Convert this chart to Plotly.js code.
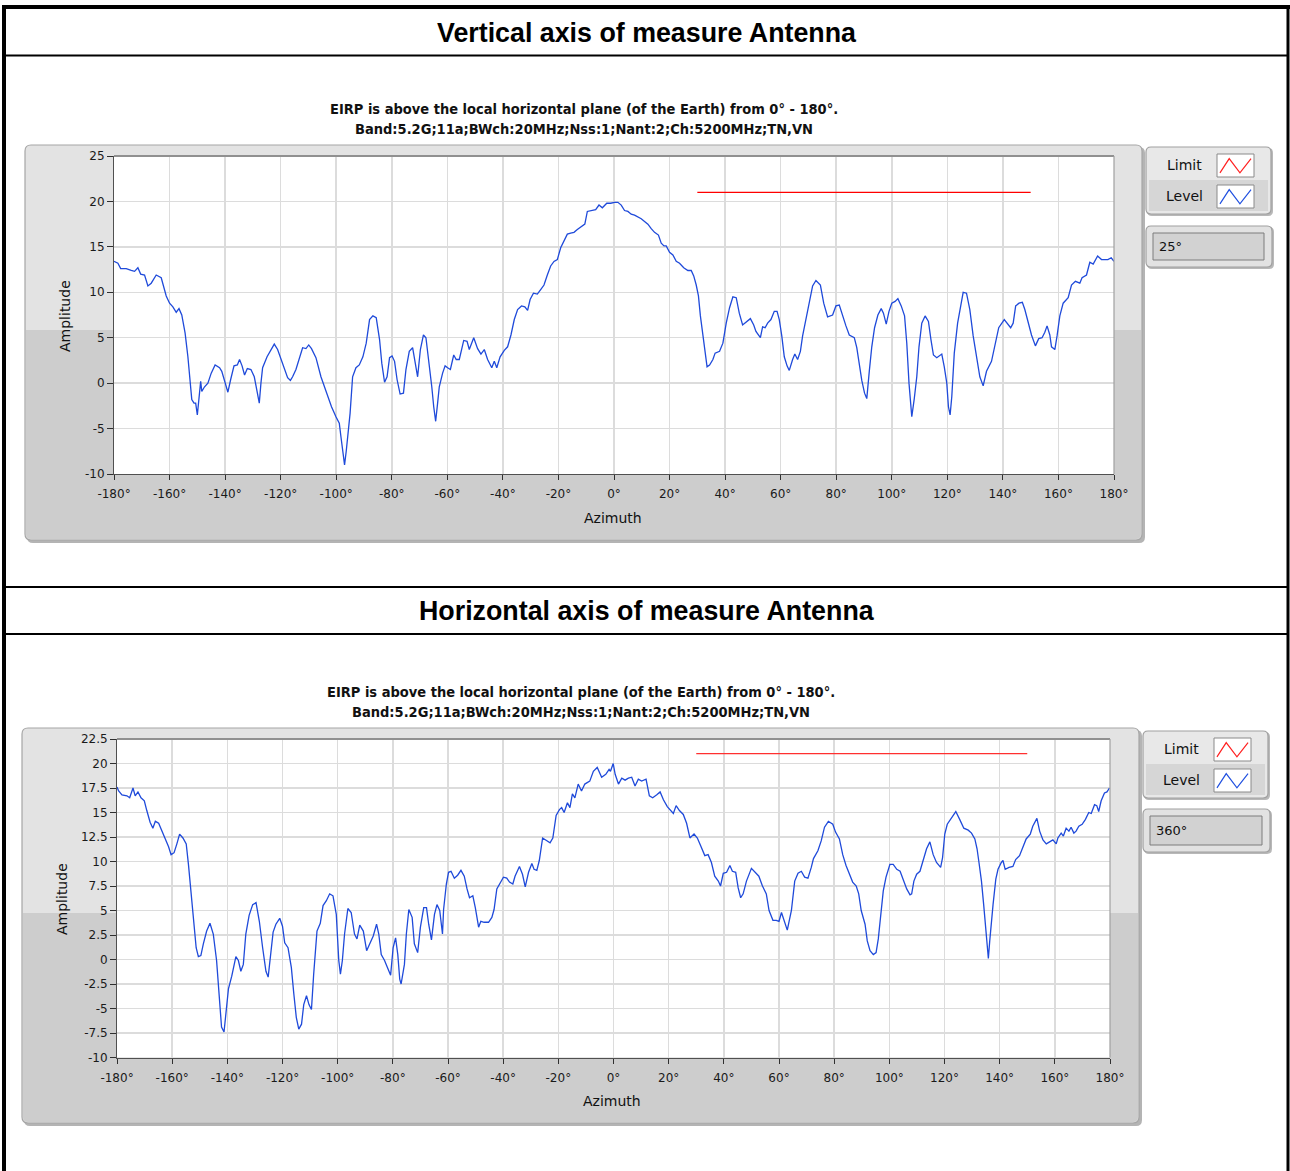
<!DOCTYPE html>
<html><head><meta charset="utf-8">
<script src="https://cdn.plot.ly/plotly-3.0.1.min.js"></script>
<style>html,body{margin:0;padding:0;background:#fff;overflow:hidden}#chart{width:1290px;height:1171px}</style>
</head><body><div id="chart"></div>
<script>
// ---------- DATA ----------
const V_azimuth = [-180,-178.6,-177.6,-175.6,-173.8,-172.6,-171.4,-170.4,-169,-167.8,-166.6,-164.8,-163,-161.2,-160,-158.8,-157.6,-156.6,-155.6,-154.4,-153.4,-152.8,-152,-151.2,-150.6,-150,-149.3,-148.8,-148.4,-147.4,-146.2,-145,-143.6,-142,-141.2,-140.2,-139,-138,-136.8,-135.6,-134.8,-133.9,-133,-132,-130.7,-129.5,-128.3,-127.7,-127.1,-126.5,-124.9,-123.5,-122.3,-121.1,-119.9,-118.7,-117.5,-116.5,-115.7,-114.5,-113.3,-112.1,-110.9,-109.9,-108.9,-107.3,-105.5,-104.3,-103.1,-101.7,-100.1,-98.9,-98.3,-97.7,-97,-96.4,-95.7,-95,-94.1,-92.9,-91.7,-90.4,-89.2,-88,-86.8,-85.6,-84.4,-83.6,-82.6,-81.7,-80.8,-79.9,-79,-78.1,-77,-75.8,-74.9,-73.7,-72.5,-71.6,-70.7,-69.7,-68.6,-67.7,-66.5,-65.6,-64.9,-64.2,-63.5,-62.9,-61.7,-60.8,-59.9,-58.9,-57.7,-56.8,-55.7,-54.1,-52.9,-52.1,-50.5,-49.1,-47.9,-46.7,-45.5,-44,-43.1,-42.2,-41,-39.5,-38.3,-37.1,-35.9,-34.7,-33.3,-32.1,-31.1,-30.2,-29,-27.6,-26.4,-25.2,-24,-22.8,-21.6,-20.4,-19.2,-18,-16.8,-15.6,-14.4,-13.2,-11.7,-10.5,-9.6,-7.8,-6.6,-5.4,-4.2,-2.6,-1.2,0.2,1.4,2.6,3.8,5,6.2,7.4,8.6,9.8,11,12.2,13.4,14.6,16,17,18,18.8,20,21.2,22.4,23.6,25.1,26.6,27.8,28.7,29.6,30.4,31.1,32,32.8,33.5,34.4,35.6,36.4,38,39.2,40.4,41.6,42.8,44,45.1,46.3,47.9,49.1,50.3,51.1,52.7,53.5,54.4,55.3,56.5,57.7,58.7,59.5,60.4,61.3,62.3,63.1,64.3,65.1,66.1,67.1,67.9,69.1,70.3,71.5,72.7,74.3,75.5,76.9,78.7,79.9,81.1,82.3,83.5,84.7,86.5,87.4,88.3,89.2,90.2,91,91.9,92.8,93.8,95,96.2,97,98,99,100,101.2,102.2,103.4,104.6,105.4,106.2,107.2,108.1,109,109.8,110.8,112,113.2,114.1,115,116.2,118,118.9,119.8,120.4,121,121.6,122.5,123.7,124.9,125.7,126.9,128.1,129.3,130.5,131.7,132.9,134.1,135.9,137.3,138.5,140.5,141.7,142.8,143.7,144.6,145.8,147,147.9,149.1,150.3,151.7,152.9,154.1,155.1,155.9,156.9,157.5,158.7,159.5,160.5,161.7,163.5,164.7,166.1,167.7,168.5,170.1,171.3,172.5,174.1,175.5,177.8,179,180];
const V_level = [13.4,13.2,12.6,12.6,12.4,12.3,12.7,12.0,11.9,10.7,11.0,11.9,11.6,9.6,8.8,8.4,7.8,8.2,7.5,5.5,2.9,0.4,-1.8,-2.2,-2.2,-3.5,-1.5,0.2,-0.9,-0.4,0,1.1,2.0,1.7,1.3,0.2,-1.0,0.4,1.9,2.0,2.6,1.9,0.9,1.6,1.5,0.7,-1.5,-2.2,0,1.7,2.9,3.7,4.3,3.7,2.6,1.5,0.6,0.3,0.7,1.5,2.8,3.9,3.8,4.2,3.8,2.8,0.7,-0.4,-1.5,-2.6,-3.7,-4.4,-5.9,-7.4,-9.0,-7.5,-5.7,-3.3,0.7,1.7,2.0,2.9,4.4,7.0,7.4,7.2,4.8,2.2,0.1,0.7,2.8,3.0,2.4,0.4,-1.2,-1.1,1.5,3.5,3.9,2.2,0.7,3.7,5.3,5.0,2.2,-0.4,-2.6,-4.2,-2.2,-0.4,1.1,1.9,1.7,1.5,3.1,2.6,2.6,4.7,4.6,3.7,5.0,3.8,3.2,3.7,2.6,1.7,2.4,1.7,2.9,3.6,4.0,5.3,7.0,8.1,8.5,8.4,8.0,9.2,9.9,9.8,10.3,10.8,11.9,12.9,13.4,13.6,14.9,15.7,16.4,16.5,16.6,16.9,17.2,17.5,18.9,19.0,19.1,19.6,19.3,19.8,19.8,19.9,19.9,19.6,19.0,18.9,18.6,18.5,18.3,18.1,17.8,17.5,17.0,16.6,16.3,15.4,15.1,15.1,14.4,14.1,13.4,13.2,12.7,12.4,12.4,11.8,10.8,9.6,7.4,5.2,2.9,1.8,2.0,2.6,3.3,3.5,4.4,6.6,8.3,9.5,9.4,7.7,6.4,6.8,7.1,6.4,5.7,5.0,6.2,6.1,6.6,7.0,7.9,7.9,7.0,5.2,2.9,1.9,1.4,2.6,3.2,2.6,3.5,5.2,7.0,9.0,10.7,11.3,10.8,8.8,7.3,7.5,8.5,8.6,7.4,6.3,5.3,5.0,3.9,1.8,0.3,-1.1,-1.7,1.3,4.0,6.1,7.5,8.2,7.7,6.5,7.9,8.8,9.0,9.3,8.5,7.4,4.4,0,-3.7,-1.7,0.7,4.0,6.6,7.4,6.8,4.8,3.1,2.8,3.2,1.8,0,-2.6,-3.5,-1.5,3.3,6.6,8.5,10.0,9.9,8.1,5.2,2.9,0.7,-0.3,1.3,2.4,4.4,6.1,7.0,6.5,6.1,6.6,8.5,8.8,8.9,8.1,6.6,5.3,4.1,4.9,5.0,5.6,6.3,5.3,4.0,3.7,5.2,7.4,8.8,9.4,10.8,11.2,11.0,11.6,11.9,13.3,13.1,14.0,13.6,13.6,13.8,13.4];

const H_azimuth = [-180,-179.4,-178.2,-176.4,-175.4,-174.9,-174.2,-173.4,-172.4,-171.3,-170.1,-169.2,-168,-167,-166.1,-164.9,-163.7,-162.5,-161.3,-160.4,-159.3,-158.3,-157.3,-156.1,-154.9,-154.1,-153.3,-152.3,-151.3,-150.5,-149.6,-148.7,-147.5,-146.3,-145.1,-143.9,-142.9,-142.1,-141.2,-140.5,-139.6,-138.4,-137.6,-136.9,-136,-135.1,-134.2,-133.3,-132.1,-130.8,-129.6,-128.4,-127.2,-126,-125.2,-124.3,-123.4,-122.4,-121,-120,-119.2,-118,-116.8,-115.9,-115,-114.1,-113.1,-112.3,-111.3,-110.4,-109.5,-108.7,-107.5,-106.3,-105.3,-104.1,-102.9,-101.7,-100.5,-99.6,-99,-98.3,-97.5,-96.3,-95.1,-93.9,-93,-92,-90.7,-89.5,-88.3,-87.1,-85.9,-85.1,-84.2,-83,-82,-80.8,-79.9,-79,-78.2,-77.5,-77,-75.8,-75.1,-74.2,-73,-72.2,-71,-70,-68.8,-67.8,-67,-66,-64.9,-64,-63,-62,-61.6,-60.6,-59.8,-58.9,-57.7,-56.5,-55.3,-54.1,-53.1,-52.2,-51,-50.1,-48.9,-48.1,-46.9,-45.3,-44.1,-43.3,-42.3,-41.1,-39.9,-38.7,-37.7,-36.5,-35.7,-34.1,-33,-32,-30.8,-29.6,-28.8,-27.8,-26.9,-25.7,-24.5,-23,-22,-20.8,-19.6,-18.8,-17.9,-16.7,-15.8,-14.9,-14,-12.8,-11.6,-10.4,-8.6,-7.3,-5.9,-4.3,-2.8,-1.6,-1.1,-0.1,0.6,1.8,3.0,4.2,5.4,6.6,7.8,9.0,10.2,11.8,13.0,14.2,15.7,16.9,18.1,19.5,21.7,22.7,23.9,25.3,26.5,27.7,29.2,30.4,31.6,33.1,34.3,35.5,36.7,38.0,38.8,39.8,41.0,42.2,43.1,44.3,45.2,46.1,47.0,48.2,50.0,51.2,52.7,54.0,55.4,56.4,57.8,59.0,60.0,60.9,62.0,63.0,64.5,65.7,66.9,68.1,69.3,70.5,71.7,72.5,74.1,75.3,76.5,77.9,79.5,80.5,81.9,83.1,84.3,85.5,86.7,88.0,88.9,89.8,90.7,91.2,92.0,93.0,94.2,95.2,96.0,96.9,97.8,98.8,100.2,101.4,102.7,103.9,105.1,106.3,107.5,108.1,108.9,109.9,111.1,112.3,113.5,114.7,115.9,117.1,118.6,119.3,120.1,121.0,122.5,124.1,125.5,127.0,128.6,129.8,131.0,131.8,132.5,133.4,134.2,134.9,135.4,135.9,136.4,137.0,137.6,138.6,139.4,140.6,141.2,142.0,143.4,144.8,145.8,147.2,148.4,149.6,151.1,152.0,153.5,154.5,155.7,156.9,158.1,159.3,160.5,161.1,162.3,163.1,164.1,165.1,165.9,166.9,167.7,168.7,169.9,171.1,172.3,173.2,174.4,175.2,175.9,176.8,178.0,178.9,179.8];
const H_level = [17.6,17.2,16.8,16.7,16.5,17.0,17.5,16.7,17.1,16.5,16.2,15.2,14.0,13.4,14.1,13.9,13.1,12.2,11.5,10.7,10.9,11.8,12.8,12.4,11.8,9.7,7.3,3.6,1.2,0.3,0.4,1.6,2.9,3.7,2.6,-0.1,-3.5,-6.9,-7.4,-5.2,-3.0,-1.7,-0.5,0.3,-0.1,-1.2,-0.5,2.6,4.5,5.6,5.8,3.9,1.2,-1.2,-1.8,0.7,2.8,3.6,4.2,3.4,1.7,1.2,-0.8,-3.5,-5.9,-7.1,-6.6,-4.6,-3.7,-4.6,-5.1,-1.5,2.9,3.7,5.5,6.0,6.7,6.5,4.6,-0.1,-1.5,-0.1,2.6,5.2,4.8,2.6,2.1,3.5,2.9,0.9,1.6,2.4,3.6,2.6,0.5,-0.1,-0.8,-1.6,1.2,2.2,0.5,-2.0,-2.5,-0.5,2.6,5.1,4.3,1.6,0.7,3.3,5.3,5.3,3.6,2.0,4.6,5.6,5.0,2.6,5.1,7.7,8.9,9.0,8.3,8.6,9.1,8.5,7.2,6.3,6.5,5.3,3.3,3.9,3.8,3.8,4.3,5.1,7.2,7.8,8.4,8.3,7.9,7.7,8.5,9.5,8.7,7.4,8.9,9.8,9.2,9.1,10.1,12.4,12.2,11.9,12.4,14.7,15.3,15.5,15.0,16.0,15.5,16.9,16.5,17.9,17.2,17.9,18.2,19.2,19.6,18.6,18.9,19.4,19.2,20.0,18.9,17.9,18.5,18.3,18.5,18.6,17.7,18.4,18.2,18.4,16.7,16.5,16.8,17.1,16.3,15.6,14.9,15.7,15.2,14.8,13.9,12.4,12.8,12.4,11.6,10.6,10.7,9.9,8.5,8.0,7.5,8.8,8.9,9.6,9.0,8.9,7.3,6.3,6.7,8.0,9.3,8.9,8.5,7.5,6.7,5.0,4.0,4.0,3.9,4.8,3.8,3.0,5.0,8.0,8.8,9.0,8.4,8.3,9.4,10.3,11.1,12.1,13.5,14.1,13.8,13.0,12.3,10.7,9.6,8.7,7.9,7.5,6.7,5.0,3.9,3.6,1.9,0.9,0.5,0.7,2.1,4.6,7.0,8.4,9.7,9.7,9.2,9.0,8.0,7.2,6.6,6.7,8.0,8.7,9.0,10.2,11.3,12.0,10.7,9.9,9.4,10.4,12.8,13.8,14.5,15.1,14.3,13.4,13.2,12.9,12.3,11.3,9.9,8.0,5.6,3.3,1.2,0.1,1.9,4.1,5.6,8.2,9.2,9.9,10.1,9.2,9.4,9.5,10.2,10.6,11.4,12.3,12.8,13.6,14.4,13.1,12.2,11.8,12.0,12.2,11.8,12.4,12.9,12.6,13.4,13.1,13.5,12.9,13.1,13.6,13.8,14.3,15.0,14.9,15.8,15.7,15.1,16.2,17.0,17.1,17.5];

const limit_azimuth = [30, 150];
const limit_value = [21, 21];

const x_tick_vals = [-180,-160,-140,-120,-100,-80,-60,-40,-20,0,20,40,60,80,100,120,140,160,180];
const x_tick_text = x_tick_vals.map(v => v + '°');
const y1_tick_vals = [-10,-5,0,5,10,15,20,25];
const y1_tick_text = y1_tick_vals.map(v => String(v));
const y2_tick_vals = [-10,-7.5,-5,-2.5,0,2.5,5,7.5,10,12.5,15,17.5,20,22.5];
const y2_tick_text = y2_tick_vals.map(v => String(v));

const section_titles = ['Vertical axis of measure Antenna', 'Horizontal axis of measure Antenna'];
const chart_title_1 = 'EIRP is above the local horizontal plane (of the Earth) from 0° - 180°.';
const chart_title_2 = 'Band:5.2G;11a;BWch:20MHz;Nss:1;Nant:2;Ch:5200MHz;TN,VN';
const angle_values = ['25°', '360°'];
const legend_names = ['Limit', 'Level'];

// ---------- LAYOUT HELPERS ----------
const W = 1290, H = 1171;
const px = x => x / W;
const py = y => 1 - y / H;

function rect(x0, y0, x1, y1, fill, lineColor, lw, layer) {
  return {type:'rect', xref:'paper', yref:'paper', x0:px(x0), x1:px(x1), y0:py(y1), y1:py(y0),
    fillcolor: fill || 'rgba(0,0,0,0)', line:{color: lineColor || 'rgba(0,0,0,0)', width: lw || 0}, layer: layer || 'below'};
}
function line(x0, y0, x1, y1, color, w, layer) {
  return {type:'line', xref:'paper', yref:'paper', x0:px(x0), x1:px(x1), y0:py(y0), y1:py(y1),
    line:{color:color, width:w}, layer: layer || 'above'};
}
function rpath(x0, y0, x1, y1, r, fill, lineColor, lw, layer, roundTop, roundBottom) {
  const P = (x, y) => px(x).toFixed(6) + ',' + py(y).toFixed(6);
  const rt = roundTop === false ? 0 : r, rb = roundBottom === false ? 0 : r;
  let d = 'M' + P(x0 + rt, y0) + ' L' + P(x1 - rt, y0);
  d += rt ? ' Q' + P(x1, y0) + ' ' + P(x1, y0 + rt) : '';
  d += ' L' + P(x1, y1 - rb);
  d += rb ? ' Q' + P(x1, y1) + ' ' + P(x1 - rb, y1) : '';
  d += ' L' + P(x0 + rb, y1);
  d += rb ? ' Q' + P(x0, y1) + ' ' + P(x0, y1 - rb) : '';
  d += ' L' + P(x0, y0 + rt);
  d += rt ? ' Q' + P(x0, y0) + ' ' + P(x0 + rt, y0) : '';
  d += ' Z';
  return {type:'path', xref:'paper', yref:'paper', path:d, fillcolor: fill || 'rgba(0,0,0,0)',
    line:{color: lineColor || 'rgba(0,0,0,0)', width: lw || 0}, layer: layer || 'below'};
}
function zigzag(x0, y0, x1, y1, color) {
  const w = x1 - x0, h = y1 - y0;
  const pts = [[0.08,0.82],[0.33,0.2],[0.62,0.82],[0.92,0.2]];
  const d = pts.map((p, i) => (i ? 'L' : 'M') + px(x0 + p[0]*w).toFixed(6) + ',' + py(y0 + p[1]*h).toFixed(6)).join(' ');
  return {type:'path', xref:'paper', yref:'paper', path:d, line:{color:color, width:1.2}, layer:'above'};
}
function ann(text, x, y, size, opts) {
  opts = opts || {};
  return Object.assign({text:text, xref:'paper', yref:'paper', x:px(x), y:py(y), showarrow:false,
    xanchor:'center', yanchor:'middle',
    font:{family:opts.family || 'DejaVu Sans, Verdana, sans-serif', size:size, color:opts.color || '#111'}}, opts.extra || {});
}

const shapes = [];
const annotations = [];
const narrowFont = 'Liberation Sans Narrow, DejaVu Sans Condensed, Arial Narrow, sans-serif';

function panel(P) {
  shapes.push(rpath(P.x0 + 2, P.y0 + 2, P.x1 + 3, P.y1 + 3, 6, '#b4b4b4', null, 0));
  shapes.push(rpath(P.x0, P.y0, P.x1, P.y1, 6, '#e3e3e3', null, 0));
  shapes.push(rpath(P.x0 + 1, P.split, P.x1 - 1, P.y1 - 1, 5, '#cdcdcd', null, 0, 'below', false, true));
  shapes.push(rpath(P.x0, P.y0, P.x1, P.y1, 6, null, '#a6a6a6', 1.2));
  shapes.push(rect(P.px0, P.py0, P.px1, P.py1, '#ffffff'));
  shapes.push(line(P.px0, P.py0, P.px1, P.py0, '#909090', 2, 'above'));
  shapes.push(line(P.px1, P.py0, P.px1, P.py1, '#a0a0a0', 1.2, 'above'));

  const L = P.leg;
  shapes.push(rpath(L.x0 + 1, L.y0 + 1, L.x1 + 2, L.y1 + 2, 5, '#b8b8b8', null, 0));
  shapes.push(rpath(L.x0, L.y0, L.x1, L.y1, 5, '#e8e8e8', '#a0a0a0', 1.2));
  shapes.push(rect(L.x0 + 3, L.y0 + 33, L.x1 - 3, L.y1 - 3, '#d6d6d6'));
  const ix0 = L.x0 + 71, ix1 = L.x0 + 108;
  shapes.push(rect(ix0, L.y0 + 7, ix1, L.y0 + 30, '#ffffff', '#8a8a8a', 1, 'above'));
  shapes.push(zigzag(ix0, L.y0 + 7, ix1, L.y0 + 30, '#ff2020'));
  shapes.push(rect(ix0, L.y0 + 38, ix1, L.y0 + 61, '#ffffff', '#8a8a8a', 1, 'above'));
  shapes.push(zigzag(ix0, L.y0 + 38, ix1, L.y0 + 61, '#2050e0'));
  annotations.push(ann(legend_names[0], L.x0 + 38, L.y0 + 18, 14));
  annotations.push(ann(legend_names[1], L.x0 + 38, L.y0 + 49, 14));

  const B = P.box;
  shapes.push(rpath(B.x0 + 1, B.y0 + 1, B.x1 + 2, B.y1 + 2, 5, '#b8b8b8', null, 0));
  shapes.push(rpath(B.x0, B.y0, B.x1, B.y1, 5, '#e2e2e2', '#a0a0a0', 1.2));
  shapes.push(rect(B.x0 + 7, B.y0 + 7, B.x1 - 8, B.y1 - 7, '#d2d2d2', '#7c7c7c', 1));
  annotations.push(ann(P.angle, B.x0 + 11, (B.y0 + B.y1) / 2, 13, {extra:{xanchor:'left'}}));

  annotations.push(ann('<b>' + chart_title_1 + '</b>', P.tx, P.ty1, 14.5, {family:narrowFont}));
  annotations.push(ann('<b>' + chart_title_2 + '</b>', P.tx, P.ty2, 14.5, {family:narrowFont}));
  annotations.push(ann('Azimuth', P.axx, P.axy, 14));
  annotations.push(ann('Amplitude', P.ayx, P.ayy, 14, {extra:{textangle:-90}}));
}

const P1 = {x0:25, y0:145, x1:1142, y1:540, split:330, px0:114, py0:156, px1:1114, py1:474,
  leg:{x0:1146, y0:147, x1:1271, y1:214}, box:{x0:1146, y0:226, x1:1272, y1:267}, angle:angle_values[0],
  tx:584, ty1:109, ty2:129, axx:613, axy:518, ayx:65, ayy:316};
const P2 = {x0:22, y0:728, x1:1139, y1:1123, split:913, px0:117, py0:739, px1:1110, py1:1057.5,
  leg:{x0:1143, y0:731, x1:1268, y1:798}, box:{x0:1143, y0:809, x1:1270, y1:852}, angle:angle_values[1],
  tx:581, ty1:692, ty2:712, axx:612, axy:1101, ayx:62, ayy:899};
panel(P1);
panel(P2);

shapes.push(line(4, 5, 4, 1171, '#000', 4));
shapes.push(line(1288, 5, 1288, 1171, '#000', 3));
shapes.push(line(2, 7, 1290, 7, '#000', 4));
shapes.push(line(4, 55.5, 1288, 55.5, '#000', 2));
shapes.push(line(4, 587, 1288, 587, '#000', 2));
shapes.push(line(4, 634, 1288, 634, '#000', 2));

annotations.push(ann('<b>' + section_titles[0] + '</b>', 647, 33, 26.8, {family:'Liberation Sans, Arial, sans-serif', color:'#000'}));
annotations.push(ann('<b>' + section_titles[1] + '</b>', 647, 611, 26.8, {family:'Liberation Sans, Arial, sans-serif', color:'#000'}));

// ---------- AXES ----------
const tickFont = {family:'DejaVu Sans, Verdana, sans-serif', size:12, color:'#1a1a1a'};
function xax(P) {
  return {domain:[px(P.px0), px(P.px1)], range:[-180, 180], tickvals:x_tick_vals, ticktext:x_tick_text,
    showgrid:true, gridcolor:'#dcdcdc', gridwidth:1.5, zeroline:false, showline:true, linecolor:'#505050', linewidth:1,
    ticks:'outside', ticklen:5, tickcolor:'#303030', tickwidth:1, tickfont:tickFont, ticklabelstandoff:4, fixedrange:true};
}
function yax(P, range, vals, text) {
  return {domain:[py(P.py1), py(P.py0)], range:range, tickvals:vals, ticktext:text,
    showgrid:true, gridcolor:'#dcdcdc', gridwidth:1.5, zeroline:false, showline:true, linecolor:'#505050', linewidth:1,
    ticks:'outside', ticklen:6, tickcolor:'#303030', tickwidth:1, tickfont:tickFont, fixedrange:true};
}

const traces = [
  {x:V_azimuth, y:V_level, xaxis:'x', yaxis:'y', type:'scatter', mode:'lines', name:legend_names[1],
   line:{color:'#1f4ada', width:1.3}},
  {x:limit_azimuth, y:limit_value, xaxis:'x', yaxis:'y', type:'scatter', mode:'lines', name:legend_names[0],
   line:{color:'#ff0000', width:1.3}},
  {x:H_azimuth, y:H_level, xaxis:'x2', yaxis:'y2', type:'scatter', mode:'lines', name:legend_names[1],
   line:{color:'#1f4ada', width:1.3}},
  {x:limit_azimuth, y:limit_value, xaxis:'x2', yaxis:'y2', type:'scatter', mode:'lines', name:legend_names[0],
   line:{color:'#ff3030', width:1.3}}
];

const layout = {
  width:W, height:H, margin:{l:0, r:0, t:0, b:0, pad:0},
  paper_bgcolor:'#ffffff', plot_bgcolor:'rgba(0,0,0,0)', showlegend:false,
  xaxis:Object.assign(xax(P1), {anchor:'y'}),
  yaxis:Object.assign(yax(P1, [-10, 25], y1_tick_vals, y1_tick_text), {anchor:'x'}),
  xaxis2:Object.assign(xax(P2), {anchor:'y2'}),
  yaxis2:Object.assign(yax(P2, [-10, 22.5], y2_tick_vals, y2_tick_text), {anchor:'x2'}),
  shapes:shapes, annotations:annotations
};

Plotly.newPlot('chart', traces, layout, {staticPlot:true, displayModeBar:false});
</script>
</body></html>
